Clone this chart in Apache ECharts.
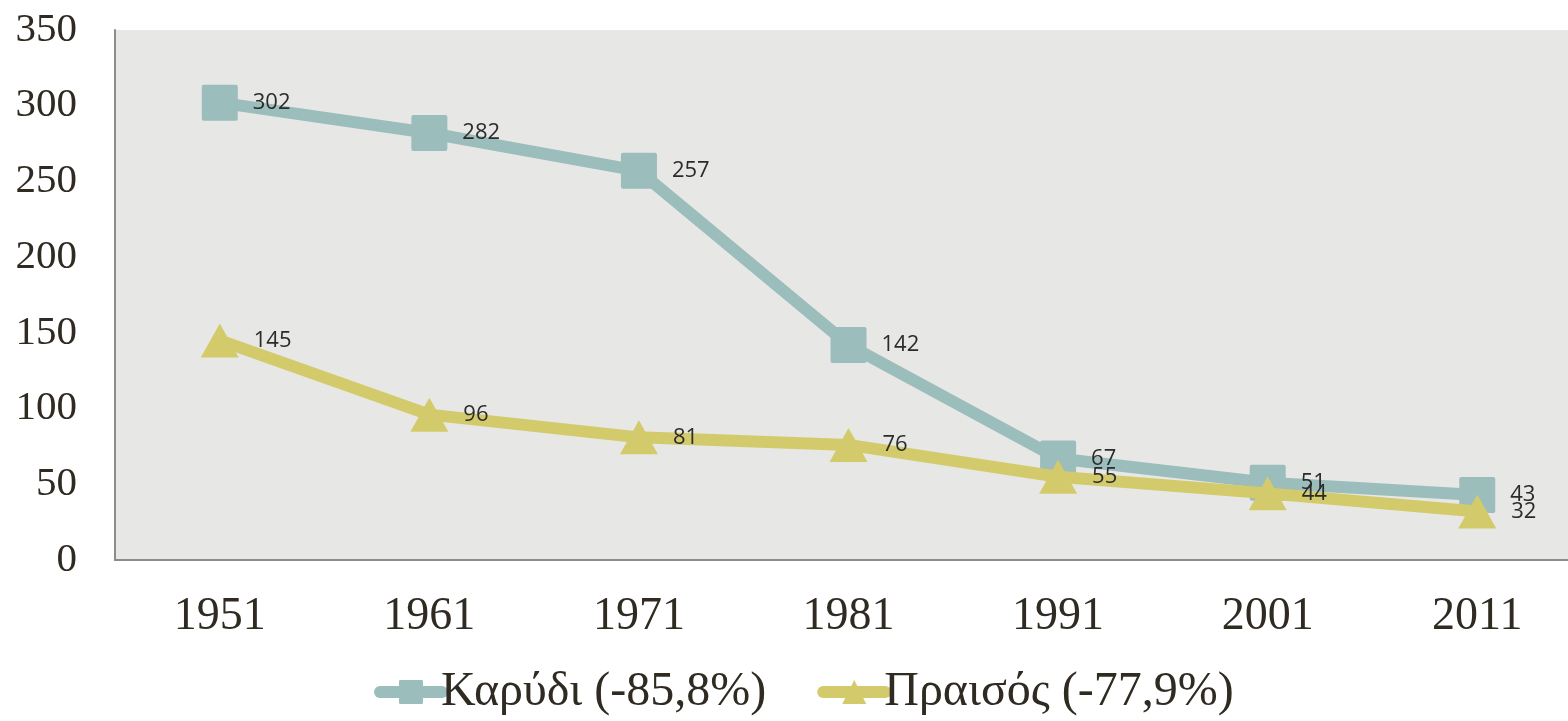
<!DOCTYPE html>
<html>
<head>
<meta charset="utf-8">
<script src="https://cdn.jsdelivr.net/npm/echarts@6/dist/echarts.min.js"></script>
<style>
  html, body { margin: 0; padding: 0; background: #fff; }
  #chart { width: 1568px; height: 721px; }
</style>
</head>
<body>
<div id="chart"></div>
<script>
const years = [1951, 1961, 1971, 1981, 1991, 2001, 2011]
const karydi = [302, 282, 257, 142, 67, 51, 43]
const praisos = [145, 96, 81, 76, 55, 44, 32]
const names = ['Καρύδι (-85,8%)', 'Πραισός (-77,9%)']

const serif = '"Liberation Serif", "DejaVu Serif", serif'
const textColor = '#2f2b22'
const blue = '#9bbdbc'
const yellow = '#d3cb6b'

// square with slightly rounded corners
const squarePath = 'path://M2,0 H34 Q36,0 36,2 V34 Q36,36 34,36 H2 Q0,36 0,34 V2 Q0,0 2,0 Z'

const labelStyle = {
  show: true,
  position: 'right',
  distance: 15,
  fontFamily: '"Open Sans", "Noto Sans", sans-serif',
  fontSize: 22,
  color: '#2b2b2b',
}

const pairs = (vals) => years.map((y, i) => [y, vals[i]])

const option = {
  animation: false,
  backgroundColor: '#fff',
  grid: {
    left: 115, // plot starts at the y axis line
    right: 0,
    top: 30,
    bottom: 161,
    backgroundColor: '#e7e7e6',
    show: true,
    borderWidth: 0,
  },
  legend: {
    bottom: 0,
    left: 369,
    itemWidth: 62,
    itemHeight: 30,
    itemGap: 51,
    lineStyle: { width: 12, cap: 'round' },
    textStyle: { fontFamily: serif, fontSize: 48, color: textColor, padding: [0, 0, 0, -6] },
    data: names,
  },
  xAxis: {
    type: 'value',
    // half a decade either side of the first/last census; the band runs off the right edge
    min: 1946,
    max: 2015.33,
    splitLine: { show: false },
    axisLine: { show: true, onZero: false, lineStyle: { color: '#8c8c8c', width: 2 } },
    axisTick: { show: false },
    axisLabel: {
      customValues: years,
      formatter: (v) => String(v),
      fontFamily: serif,
      fontSize: 46,
      color: textColor,
      margin: 34,
    },
  },
  yAxis: {
    type: 'value',
    min: 0,
    max: 350,
    interval: 50,
    splitLine: { show: false },
    axisLine: { show: true, lineStyle: { color: '#8c8c8c', width: 2 } },
    axisTick: { show: false },
    axisLabel: { fontFamily: serif, fontSize: 41, color: textColor, margin: 38 },
  },
  series: [
    {
      name: names[0],
      type: 'line',
      data: pairs(karydi),
      symbol: squarePath,
      symbolSize: 36,
      color: blue,
      lineStyle: { width: 12, color: blue },
      itemStyle: { color: blue },
      label: labelStyle,
      z: 2,
    },
    {
      name: names[1],
      type: 'line',
      data: pairs(praisos),
      symbol: 'triangle',
      symbolSize: [38, 34],
      color: yellow,
      lineStyle: { width: 12, color: yellow },
      itemStyle: { color: yellow },
      label: labelStyle,
      z: 3,
    },
  ],
}

const myChart = echarts.init(document.getElementById('chart'))
myChart.setOption(option)
</script>
</body>
</html>
